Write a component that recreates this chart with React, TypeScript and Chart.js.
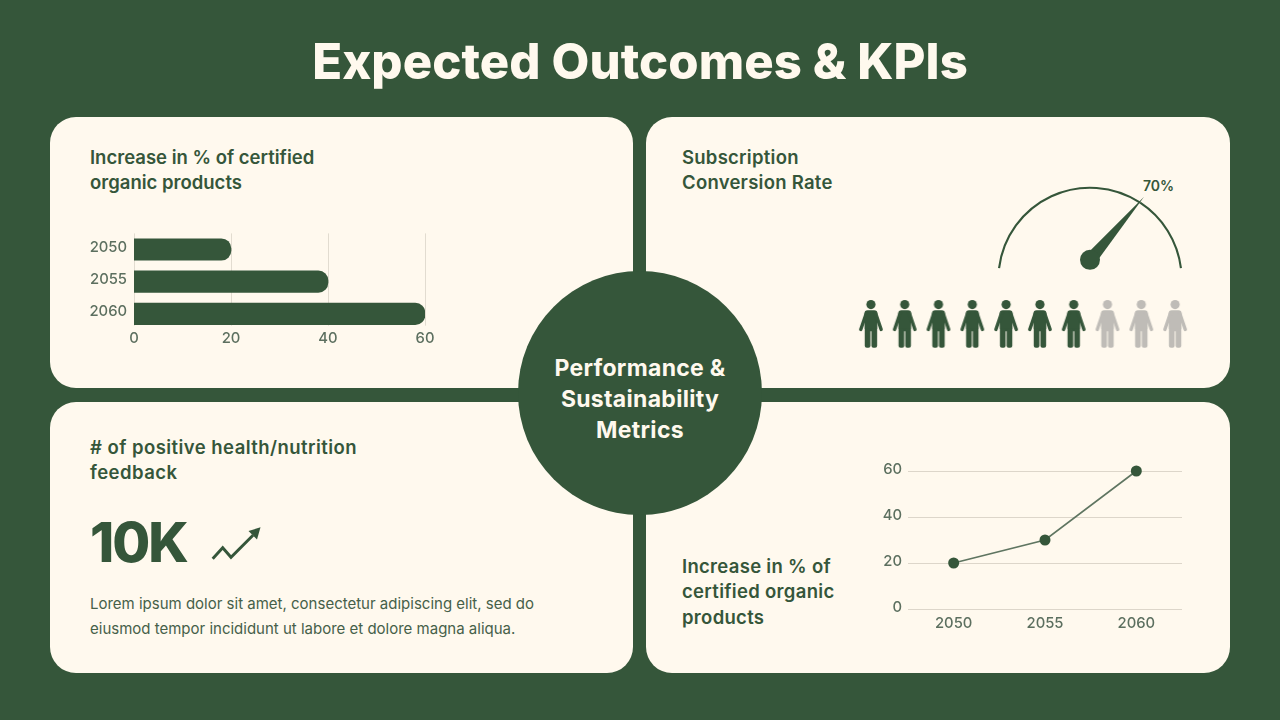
import React, { useEffect, useRef } from "react";
import { Chart, registerables } from "chart.js";

Chart.register(...registerables);

const GREEN = "#35563a";
const CARD = "#fff9ee";
const TICK = "#5c6f5f";
const GRID = "#e2dcd0";
const FONT = "Inter";

const barYears = ["2050", "2055", "2060"];
const barValues = [20, 40, 60];
const barTicks = [0, 20, 40, 60];

const lineYears = ["2050", "2055", "2060"];
const lineValues = [20, 30, 60];
const lineTicks = [0, 20, 40, 60];

const gaugeValues = [70, 30];
const gaugeLabel = "70%";

const personSlots = [1, 2, 3, 4, 5, 6, 7, 8, 9, 10];
const personActive = [1, 1, 1, 1, 1, 1, 1, 0, 0, 0];

const personImage = (color: string) => {
  const c = document.createElement("canvas");
  c.width = 26;
  c.height = 50;
  const g = c.getContext("2d")!;
  g.translate(1, 1);
  g.fillStyle = color;
  g.strokeStyle = color;
  g.beginPath();
  g.arc(12, 4.6, 4.6, 0, Math.PI * 2);
  g.fill();
  g.beginPath();
  g.roundRect(5.6, 10.2, 12.8, 21, 3);
  g.fill();
  g.beginPath();
  g.roundRect(5.8, 28, 5.7, 19.7, 2);
  g.roundRect(12.5, 28, 5.7, 19.7, 2);
  g.fill();
  g.lineWidth = 3.4;
  g.lineCap = "round";
  g.beginPath();
  g.moveTo(7.5, 12.8);
  g.lineTo(1.8, 29.5);
  g.moveTo(16.5, 12.8);
  g.lineTo(22.2, 29.5);
  g.stroke();
  return c;
};

const barGridPlugin = {
  id: "barGrid",
  beforeDatasetsDraw(chart: any) {
    const { ctx, scales, chartArea } = chart;
    const bars = chart.getDatasetMeta(0).data;
    const bottom = bars[bars.length - 1].y + bars[bars.length - 1].height / 2 + 1;
    ctx.save();
    ctx.strokeStyle = GRID;
    ctx.lineWidth = 1;
    barTicks.forEach((t) => {
      const x = Math.round(scales.x.getPixelForValue(t)) + 0.5;
      ctx.beginPath();
      ctx.moveTo(x, chartArea.top);
      ctx.lineTo(x, bottom);
      ctx.stroke();
    });
    ctx.restore();
  },
};

const needlePlugin = {
  id: "needle",
  afterDatasetsDraw(chart: any) {
    const { ctx } = chart;
    const arc = chart.getDatasetMeta(0).data[0];
    const end = arc.endAngle;
    const r = arc.outerRadius + 6;
    const tx = arc.x + Math.cos(end) * r;
    const ty = arc.y + Math.sin(end) * r;
    const hx = arc.x;
    const hy = arc.y - 19.5;
    const a = Math.atan2(ty - hy, tx - hx);
    const w = 6.5;
    ctx.save();
    ctx.fillStyle = GREEN;
    ctx.beginPath();
    ctx.moveTo(hx + Math.cos(a + Math.PI / 2) * w, hy + Math.sin(a + Math.PI / 2) * w);
    ctx.lineTo(tx, ty);
    ctx.lineTo(hx + Math.cos(a - Math.PI / 2) * w, hy + Math.sin(a - Math.PI / 2) * w);
    ctx.closePath();
    ctx.fill();
    ctx.beginPath();
    ctx.arc(hx, hy, 10, 0, Math.PI * 2);
    ctx.fill();
    ctx.restore();
  },
};

const useChart = (make: (c: HTMLCanvasElement) => Chart) => {
  const ref = useRef<HTMLCanvasElement>(null);
  useEffect(() => {
    const chart = make(ref.current!);
    return () => chart.destroy();
  }, []);
  return ref;
};

const tickFont = { family: FONT, size: 14.8, weight: 500 as any };

const Cv = ({ r, x, y, w, h }: any) => (
  <canvas ref={r} width={w} height={h} style={{ position: "absolute", left: x, top: y, width: w, height: h }} />
);

const Txt = ({ x, y, w, lh, size, weight, color, align, children, spacing }: any) => (
  <div
    style={{
      position: "absolute",
      left: x,
      top: y,
      width: w,
      lineHeight: `${lh}px`,
      fontSize: size,
      fontWeight: weight,
      color,
      textAlign: align || "left",
      fontFamily: FONT,
      letterSpacing: spacing || 0,
      whiteSpace: "nowrap",
    }}
  >
    {children}
  </div>
);

const Card = ({ x, y, w, h }: any) => (
  <div style={{ position: "absolute", left: x, top: y, width: w, height: h, background: CARD, borderRadius: 26 }} />
);

export default function App() {
  const barRef = useChart(
    (c) =>
      new Chart(c, {
        type: "bar",
        data: {
          labels: barYears,
          datasets: [{ data: barValues, backgroundColor: GREEN, barThickness: 21.5, borderRadius: 10 }],
        },
        plugins: [barGridPlugin],
        options: {
          animation: false,
          responsive: false,
          indexAxis: "y",
          layout: { autoPadding: false, padding: { top: 13.4, right: 25 } },
          plugins: { legend: { display: false }, tooltip: { enabled: false } },
          scales: {
            x: {
              min: 0,
              max: 60,
              border: { display: false },
              grid: { display: false, drawTicks: false },
              ticks: { stepSize: 20, color: TICK, font: tickFont, padding: 0, maxRotation: 0 },
              afterFit: (s: any) => {
                s.height = 30;
                s.paddingTop = 0;
                s.paddingBottom = 0;
              },
            },
            y: {
              border: { display: false },
              grid: { display: false, drawTicks: false },
              ticks: { color: TICK, font: tickFont, padding: 7, labelOffset: -2 },
              afterFit: (s: any) => {
                s.width = 84;
                s.paddingTop = 0;
                s.paddingBottom = 0;
              },
            },
          },
        },
      })
  );

  const gaugeRef = useChart(
    (c) =>
      new Chart(c, {
        type: "doughnut",
        data: {
          labels: ["Converted", "Other"],
          datasets: [{ data: gaugeValues, backgroundColor: [GREEN, GREEN], borderWidth: 0 }],
        },
        plugins: [needlePlugin],
        options: {
          animation: false,
          responsive: false,
          rotation: -83,
          circumference: 166,
          cutout: "97.7%",
          layout: { padding: { left: 8, right: 8, bottom: 15 } },
          plugins: { legend: { display: false }, tooltip: { enabled: false } },
        },
      })
  );

  const peopleRef = useChart((c) => {
    const on = personImage(GREEN);
    const off = personImage("#bfbcb7");
    return new Chart(c, {
      type: "scatter",
      data: {
        datasets: [
          {
            data: personSlots.map((x) => ({ x, y: 1 })),
            pointStyle: personActive.map((a) => (a ? on : off)),
          },
        ],
      },
      options: {
        animation: false,
        responsive: false,
        layout: { autoPadding: false },
        plugins: { legend: { display: false }, tooltip: { enabled: false } },
        scales: {
          x: { display: false, min: 0.5, max: 10.5 },
          y: { display: false, min: 0, max: 2 },
        },
      },
    });
  });

  const lineRef = useChart(
    (c) =>
      new Chart(c, {
        type: "line",
        data: {
          labels: lineYears,
          datasets: [
            {
              data: lineValues,
              clip: false as any,
              borderColor: "#5f7561",
              borderWidth: 1.6,
              tension: 0,
              pointRadius: 5.5,
              pointBackgroundColor: GREEN,
              pointBorderColor: GREEN,
              pointBorderWidth: 0,
            },
          ],
        },
        options: {
          animation: false,
          responsive: false,
          layout: { autoPadding: false, padding: { top: 16, right: 18 } },
          plugins: { legend: { display: false }, tooltip: { enabled: false } },
          scales: {
            x: {
              offset: true,
              border: { display: false },
              grid: { display: false, drawTicks: false },
              ticks: { color: TICK, font: tickFont, padding: 6 },
              afterFit: (s: any) => {
                s.height = 31;
              },
            },
            y: {
              min: 0,
              max: 60,
              afterBuildTicks: (s: any) => {
                s.ticks = lineTicks.map((value) => ({ value }));
              },
              border: { display: false },
              grid: { color: "#ddd6ca", drawTicks: false },
              ticks: { color: TICK, font: tickFont, padding: 6, labelOffset: -1.5 },
              afterFit: (s: any) => {
                s.width = 48;
              },
            },
          },
        },
      })
  );

  return (
    <div style={{ position: "absolute", left: 0, top: 0, width: 1280, height: 720, background: GREEN, overflow: "hidden" }}>
      <Txt x={0} y={31} w={1280} lh={62} size={49} weight={800} color={CARD} align="center" spacing={0.1}>
        Expected Outcomes &amp; KPIs
      </Txt>
      <Card x={50} y={117} w={583} h={271} />
      <Card x={646} y={117} w={584} h={271} />
      <Card x={50} y={402} w={583} h={271} />
      <Card x={646} y={402} w={584} h={271} />
      <div style={{ position: "absolute", left: 518, top: 271, width: 244, height: 244, borderRadius: "50%", background: GREEN }} />

      <Txt x={90} y={144.5} lh={25} size={18.5} weight={600} color={GREEN}>
        Increase in % of certified<br />organic products
      </Txt>
      <Txt x={682} y={144.5} lh={25} size={18.5} weight={600} color={GREEN} spacing={0.25}>
        Subscription<br />Conversion Rate
      </Txt>
      <Txt x={90} y={434.5} lh={25} size={18.5} weight={600} color={GREEN} spacing={0.45}>
        # of positive health/nutrition<br />feedback
      </Txt>
      <Txt x={682} y={553.5} lh={25.5} size={18.5} weight={600} color={GREEN} spacing={0.3}>
        Increase in % of<br />certified organic<br />products
      </Txt>
      <Txt x={518} y={353} w={244} lh={31} size={23} weight={700} color={CARD} align="center" spacing={0.3}>
        Performance &amp;<br />Sustainability<br />Metrics
      </Txt>
      <Txt x={90} y={507} lh={70} size={55} weight={800} color={GREEN} spacing={-2}>
        10K
      </Txt>
      <svg style={{ position: "absolute", left: 205, top: 520 }} width={62} height={46} viewBox="205 520 62 46">
        <polyline points="212.7,558.7 222.7,547.7 231,557.3 253,535.3" fill="none" stroke={GREEN} strokeWidth={2.9} />
        <polygon points="260.5,527.2 248.5,531 257,539.5" fill={GREEN} />
      </svg>
      <Txt x={90} y={591} lh={25.4} size={15} weight={400} color="#466049">
        Lorem ipsum dolor sit amet, consectetur adipiscing elit, sed do<br />
        eiusmod tempor incididunt ut labore et dolore magna aliqua.
      </Txt>
      <Txt x={1143} y={177} lh={18} size={14} weight={600} color={GREEN}>
        {gaugeLabel}
      </Txt>

      <Cv r={barRef} x={50} y={220} w={400} h={140} />
      <Cv r={gaugeRef} x={990} y={180} w={200} h={110} />
      <Cv r={peopleRef} x={854} y={295} w={338} h={58} />
      <Cv r={lineRef} x={860} y={455} w={340} h={185} />
    </div>
  );
}
